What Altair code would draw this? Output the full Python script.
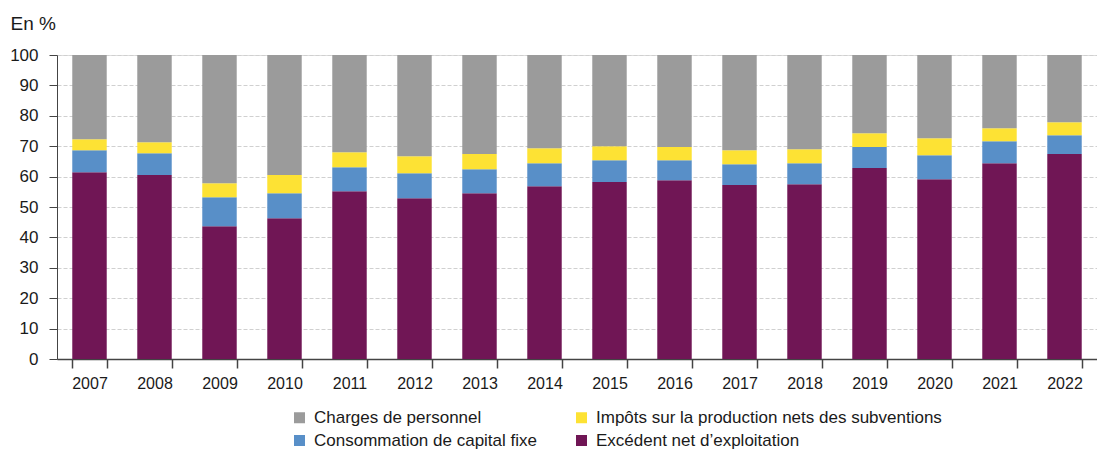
import altair as alt
import pandas as pd

annees = ["2007", "2008", "2009", "2010", "2011", "2012", "2013", "2014",
          "2015", "2016", "2017", "2018", "2019", "2020", "2021", "2022"]

excedent = [61.4, 60.5, 43.7, 46.3, 55.2, 52.9, 54.5, 56.8,
            58.2, 58.8, 57.2, 57.5, 62.8, 59.1, 64.4, 67.4]
consommation = [7.3, 7.2, 9.5, 8.2, 7.9, 8.2, 7.9, 7.6,
                7.2, 6.6, 6.9, 6.9, 6.9, 7.9, 7.2, 6.2]
impots = [3.6, 3.6, 4.6, 6.0, 4.9, 5.6, 5.0, 4.9,
          4.6, 4.3, 4.6, 4.6, 4.6, 5.6, 4.3, 4.3]
charges = [27.7, 28.7, 42.2, 39.5, 32.0, 33.3, 32.6, 30.7,
           30.0, 30.3, 31.3, 31.0, 25.7, 27.4, 24.1, 22.1]

series_noms = ["Excédent net d\u2019exploitation", "Consommation de capital fixe",
               "Impôts sur la production nets des subventions", "Charges de personnel"]
# legend is filled column by column (2 columns)
legende_ordre = ["Charges de personnel", "Consommation de capital fixe",
                 "Impôts sur la production nets des subventions",
                 "Excédent net d\u2019exploitation"]
couleurs = ["#9b9b9b", "#588fc8", "#fde234", "#701655"]

series_vals = [excedent, consommation, impots, charges]
rows = []
for k, (nom, vals) in enumerate(zip(series_noms, series_vals)):
    for a, v in zip(annees, vals):
        rows.append({"Année": a, "Composante": nom, "Valeur": v, "Ordre": k})
df = pd.DataFrame(rows)

FONT = "Liberation Sans"

chart = alt.Chart(df).mark_bar().encode(
    x=alt.X("Année:N", sort=annees,
            scale=alt.Scale(paddingInner=0.47, paddingOuter=0.235),
            axis=alt.Axis(title=None, labelAngle=0, tickBand="extent", grid=False,
                          domainColor="#444444", domainWidth=1.5, tickColor="#444444",
                          tickWidth=1.5, tickSize=9, labelPadding=7, labelFontSize=16,
                          labelColor="#1a1a1a", labelFont=FONT)),
    y=alt.Y("Valeur:Q", stack="zero",
            scale=alt.Scale(domain=[0, 100], nice=False),
            axis=alt.Axis(values=list(range(0, 101, 10)), title="En %",
                          titleAngle=0, titleAlign="left", titleBaseline="alphabetic",
                          titleX=-47, titleY=-26, titleFontSize=19, titleFontWeight="normal",
                          titleColor="#1a1a1a", titleFont=FONT,
                          domainColor="#444444", tickColor="#444444", tickSize=8,
                          labelPadding=11, labelFontSize=17, labelColor="#1a1a1a",
                          labelFont=FONT, grid=True, gridColor="#d0d0d0",
                          gridDash=[4, 2], gridWidth=1)),
    color=alt.Color("Composante:N",
                    scale=alt.Scale(domain=legende_ordre, range=couleurs),
                    legend=alt.Legend(title=None, orient="none", legendX=234, legendY=354,
                                      columns=2, symbolType="square", symbolSize=121,
                                      symbolStrokeWidth=0, labelFontSize=17, labelFont=FONT,
                                      labelColor="#1a1a1a", labelOffset=6, labelLimit=600,
                                      columnPadding=35, rowPadding=5, padding=0)),
    order=alt.Order("Ordre:Q", sort="ascending"),
).properties(
    width=1040, height=304,
    autosize=alt.AutoSizeParams(type="none"),
    padding={"left": 49, "top": 47, "right": 0, "bottom": 91},
).configure_view(stroke=None).configure(background="white")

chart.save("out.html", embed_options={"renderer": "svg", "actions": False})
